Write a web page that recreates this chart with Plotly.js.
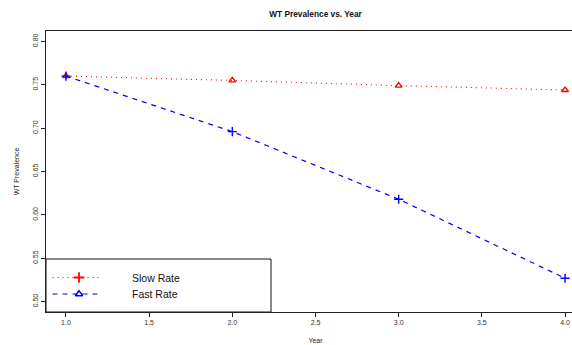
<!DOCTYPE html>
<html>
<head>
<meta charset="utf-8">
<script src="https://cdn.plot.ly/plotly-3.0.1.min.js"></script>
<style>
html,body{margin:0;padding:0;overflow:hidden;background:#fff;}
#chart{width:587px;height:345px;}
</style>
</head>
<body>
<div id="chart"></div>
<script>
// ---- data ----
var years = [1, 2, 3, 4];
var slowRate = [0.760, 0.755, 0.749, 0.744];
var fastRate = [0.760, 0.696, 0.618, 0.527];
var seriesNames = ["Slow Rate", "Fast Rate"];
var xTicks = [1.0, 1.5, 2.0, 2.5, 3.0, 3.5, 4.0];
var yTicks = [0.50, 0.55, 0.60, 0.65, 0.70, 0.75, 0.80];

var FONT = "Liberation Sans, Arial, Helvetica, sans-serif";
var RED = "#ff0000", BLUE = "#0000ff";

// plot area in px (used for the hand-drawn legend overlay)
var PW = 539, PH = 281;

var traces = [
  {x: years, y: slowRate, mode: "lines+markers", name: seriesNames[0], showlegend: false,
   line: {color: RED, width: 1.1, dash: "1px,4px"},
   marker: {symbol: "triangle-up-open", size: 6, color: RED, line: {width: 1.3, color: RED}}},
  {x: years, y: fastRate, mode: "lines+markers", name: seriesNames[1], showlegend: false,
   line: {color: BLUE, width: 1.2, dash: "5px,5px"},
   marker: {symbol: "cross-thin-open", size: 6.5, color: BLUE, line: {width: 1.4, color: BLUE}}},
  // legend samples (overlay axes in px)
  {x: [6.5, 55.7], y: [34.5, 34.5], xaxis: "x2", yaxis: "y2", mode: "lines", showlegend: false, hoverinfo: "skip",
   line: {color: RED, width: 1.1, dash: "1px,4px"}},
  {x: [33], y: [34.5], xaxis: "x2", yaxis: "y2", mode: "markers", showlegend: false, hoverinfo: "skip",
   marker: {symbol: "cross-thin-open", size: 7.5, color: RED, line: {width: 1.8, color: RED}}},
  {x: [6.5, 55.7], y: [18, 18], xaxis: "x2", yaxis: "y2", mode: "lines", showlegend: false, hoverinfo: "skip",
   line: {color: BLUE, width: 1.2, dash: "5px,5px"}},
  {x: [33], y: [18], xaxis: "x2", yaxis: "y2", mode: "markers", showlegend: false, hoverinfo: "skip",
   marker: {symbol: "triangle-up-open", size: 6.5, color: BLUE, line: {width: 1.5, color: BLUE}}}
];

var layout = {
  width: 587, height: 345,
  margin: {l: 46, r: 2, t: 31, b: 33, pad: 0},
  paper_bgcolor: "#fff", plot_bgcolor: "#fff",
  font: {family: FONT, color: "#333", size: 7},
  showlegend: false,
  title: {text: "<b>WT Prevalence vs. Year</b>", font: {family: FONT, size: 8.3, color: "#111"},
          x: 0.5, xref: "paper", xanchor: "center", y: 1 - 14/345, yanchor: "middle"},
  xaxis: {range: [0.88, 4.12], tickvals: xTicks, ticktext: xTicks.map(function(v){return v.toFixed(1);}),
          ticks: "outside", ticklen: 4, tickwidth: 1, tickcolor: "#222",
          showline: true, linecolor: "#222", linewidth: 1, mirror: true,
          showgrid: false, zeroline: false, tickfont: {size: 7, color: "#333"},
          title: {text: "Year", font: {size: 7, color: "#222"}, standoff: 12}},
  yaxis: {range: [0.488, 0.812], tickvals: yTicks, ticktext: yTicks.map(function(v){return v.toFixed(2);}),
          tickangle: -90, ticks: "outside", ticklen: 4, tickwidth: 1, tickcolor: "#222",
          showline: true, linecolor: "#222", linewidth: 1, mirror: true,
          showgrid: false, zeroline: false, tickfont: {size: 7, color: "#333"},
          title: {text: "WT Prevalence", font: {size: 7, color: "#222"}, standoff: 11}},
  xaxis2: {overlaying: "x", anchor: "y2", range: [0, PW], visible: false, fixedrange: true},
  yaxis2: {overlaying: "y", anchor: "x2", range: [0, PH], visible: false, fixedrange: true},
  shapes: [
    {type: "rect", xref: "x2", yref: "y2", x0: 0, x1: 225, y0: 0, y1: 53,
     line: {color: "#111", width: 1}, fillcolor: "rgba(255,255,255,0)"}
  ],
  annotations: [
    {xref: "x2", yref: "y2", x: 84, y: 34.5, text: seriesNames[0], showarrow: false,
     xanchor: "left", yanchor: "middle", font: {family: FONT, size: 10.5, color: "#111"}},
    {xref: "x2", yref: "y2", x: 84, y: 18, text: seriesNames[1], showarrow: false,
     xanchor: "left", yanchor: "middle", font: {family: FONT, size: 10.5, color: "#111"}}
  ]
};

Plotly.newPlot("chart", traces, layout, {displayModeBar: false, staticPlot: true});
</script>
</body>
</html>
